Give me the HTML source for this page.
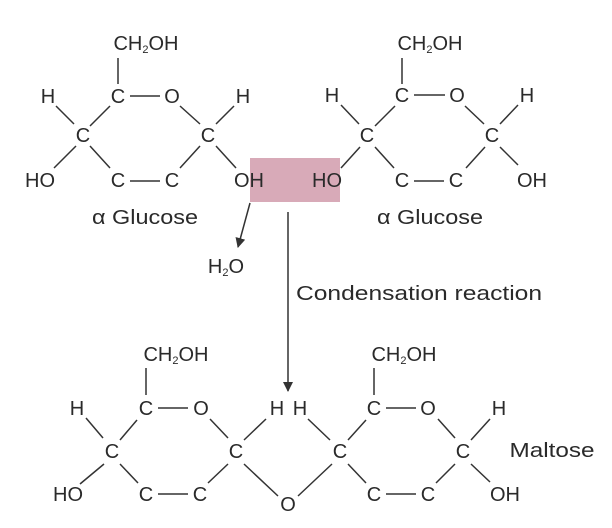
<!DOCTYPE html>
<html><head><meta charset="utf-8"><style>
html,body{margin:0;padding:0;background:#fff;}
svg{display:block;}
text{font-family:"Liberation Sans",sans-serif;font-size:20px;fill:#2a2a2a;}
.s{font-size:11px;}
</style></head><body>
<svg width="612" height="528" viewBox="0 0 612 528" xmlns="http://www.w3.org/2000/svg">
<defs><marker id="ar" markerWidth="10" markerHeight="12" refX="9" refY="5" orient="auto" markerUnits="userSpaceOnUse"><path d="M0,0 L10,5 L0,10 z" fill="#333"/></marker></defs>
<rect x="250" y="158" width="90" height="44" fill="#d8aab8"/>
<g stroke="#333" stroke-width="1.5" fill="none">
<line x1="118" y1="58" x2="118" y2="84"/>
<line x1="130" y1="96" x2="160" y2="96"/>
<line x1="56" y1="106" x2="74" y2="124"/>
<line x1="90" y1="126" x2="110" y2="106"/>
<line x1="180" y1="106" x2="200" y2="124"/>
<line x1="216" y1="124" x2="234" y2="106"/>
<line x1="90" y1="146" x2="110" y2="168"/>
<line x1="76" y1="146" x2="54" y2="168"/>
<line x1="130" y1="181" x2="160" y2="181"/>
<line x1="180" y1="168" x2="200" y2="146"/>
<line x1="216" y1="146" x2="236" y2="168"/>
<line x1="402" y1="58" x2="402" y2="84"/>
<line x1="414" y1="95" x2="445" y2="95"/>
<line x1="341" y1="105" x2="359" y2="124"/>
<line x1="375" y1="126" x2="395" y2="106"/>
<line x1="465" y1="106" x2="484" y2="124"/>
<line x1="500" y1="124" x2="518" y2="105"/>
<line x1="375" y1="147" x2="394" y2="168"/>
<line x1="360" y1="147" x2="341" y2="168"/>
<line x1="414" y1="181" x2="444" y2="181"/>
<line x1="466" y1="168" x2="485" y2="147"/>
<line x1="500" y1="147" x2="518" y2="165"/>
<line x1="250" y1="203" x2="238" y2="247" marker-end="url(#ar)"/>
<line x1="288" y1="212" x2="288" y2="391" marker-end="url(#ar)"/>
<line x1="146" y1="368" x2="146" y2="395"/>
<line x1="158" y1="408" x2="188" y2="408"/>
<line x1="86" y1="418" x2="103" y2="438"/>
<line x1="120" y1="440" x2="137" y2="420"/>
<line x1="210" y1="419" x2="228" y2="438"/>
<line x1="244" y1="440" x2="266" y2="419"/>
<line x1="104" y1="464" x2="80" y2="484"/>
<line x1="120" y1="464" x2="138" y2="483"/>
<line x1="158" y1="494" x2="188" y2="494"/>
<line x1="208" y1="483" x2="228" y2="464"/>
<line x1="244" y1="464" x2="278" y2="496"/>
<line x1="298" y1="496" x2="332" y2="464"/>
<line x1="308" y1="419" x2="330" y2="440"/>
<line x1="348" y1="440" x2="366" y2="420"/>
<line x1="374" y1="368" x2="374" y2="395"/>
<line x1="386" y1="408" x2="416" y2="408"/>
<line x1="438" y1="419" x2="455" y2="438"/>
<line x1="471" y1="440" x2="490" y2="419"/>
<line x1="348" y1="464" x2="366" y2="483"/>
<line x1="386" y1="494" x2="416" y2="494"/>
<line x1="436" y1="483" x2="455" y2="464"/>
<line x1="471" y1="464" x2="490" y2="482"/>
</g>
<g text-anchor="middle" dominant-baseline="central">
<text x="146" y="44">CH<tspan class="s" dy="6">2</tspan><tspan dy="-6">OH</tspan></text>
<text x="118" y="97">C</text><text x="172" y="97">O</text>
<text x="48" y="97">H</text><text x="243" y="97">H</text>
<text x="83" y="136">C</text><text x="208" y="136">C</text>
<text x="40" y="181">HO</text><text x="118" y="181">C</text><text x="172" y="181">C</text><text x="249" y="181">OH</text>
<text x="145" y="218" textLength="106" lengthAdjust="spacingAndGlyphs">α Glucose</text>
<text x="430" y="44">CH<tspan class="s" dy="6">2</tspan><tspan dy="-6">OH</tspan></text>
<text x="402" y="96">C</text><text x="457" y="96">O</text>
<text x="332" y="96">H</text><text x="527" y="96">H</text>
<text x="367" y="136">C</text><text x="492" y="136">C</text>
<text x="327" y="181">HO</text><text x="402" y="181">C</text><text x="456" y="181">C</text><text x="532" y="181">OH</text>
<text x="430" y="218" textLength="106" lengthAdjust="spacingAndGlyphs">α Glucose</text>
<text x="226" y="267">H<tspan class="s" dy="6">2</tspan><tspan dy="-6">O</tspan></text>
<text x="419" y="294" textLength="246" lengthAdjust="spacingAndGlyphs">Condensation reaction</text>
<text x="176" y="355">CH<tspan class="s" dy="6">2</tspan><tspan dy="-6">OH</tspan></text>
<text x="404" y="355">CH<tspan class="s" dy="6">2</tspan><tspan dy="-6">OH</tspan></text>
<text x="146" y="409">C</text><text x="201" y="409">O</text>
<text x="77" y="409">H</text><text x="277" y="409">H</text><text x="300" y="409">H</text>
<text x="112" y="452">C</text><text x="236" y="452">C</text>
<text x="68" y="495">HO</text><text x="146" y="495">C</text><text x="200" y="495">C</text>
<text x="288" y="505">O</text>
<text x="340" y="452">C</text><text x="374" y="409">C</text><text x="428" y="409">O</text><text x="499" y="409">H</text>
<text x="463" y="452">C</text>
<text x="374" y="495">C</text><text x="428" y="495">C</text><text x="505" y="495">OH</text>
<text x="552" y="451" textLength="85" lengthAdjust="spacingAndGlyphs">Maltose</text>
</g>
</svg>
</body></html>
